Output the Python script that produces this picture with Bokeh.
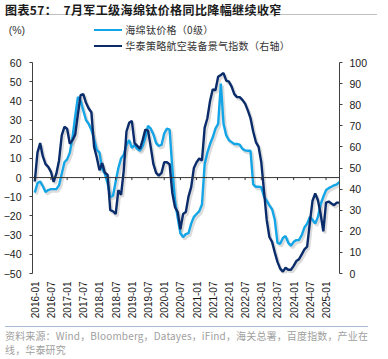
from bokeh.plotting import figure
from bokeh.models import (Range1d, LinearAxis, FixedTicker, Span, ColumnDataSource, Div)
from bokeh.layouts import column
from bokeh.embed import file_html
from bokeh.resources import INLINE

# ---------------- data ----------------
months = [f"{2016 + i // 12}-{i % 12 + 1:02d}" for i in range(114)]  # 2016-01 .. 2025-06

tick_labels = ["2016-01", "2016-07", "2017-01", "2017-07", "2018-01", "2018-07",
               "2019-01", "2019-07", "2020-01", "2020-07", "2021-01", "2021-07",
               "2022-01", "2022-07", "2023-01", "2023-07", "2024-01", "2024-07",
               "2025-01"]

series_names = ["海绵钛价格（0级）", "华泰策略航空装备景气指数（右轴）"]

# 海绵钛价格（0级）同比, %  (left axis)
sponge_ti = [
    -7.8, -3.0, -2.0, -4.5, -7.5, -6.5, -6.0, -6.0, -6.0, -4.0,
    2.0, 8.0, 9.5, 13.0, 21.0, 32.0, 42.0, 40.0, 35.0, 30.0,
    28.0, 25.0, 20.0, 14.5, 13.0, 4.5, 2.0, -3.0, -10.0, -9.5,
    -2.0, 5.0, 10.0, 12.0, 17.0, 19.5, 15.5, 17.0, 15.0, 14.0,
    16.5, 21.0, 27.0, 25.5, 22.5, 18.0, 16.5, 17.0, 23.0, 25.5,
    25.0, 5.0, -12.0, -21.0, -29.0, -31.0, -29.5, -29.0, -24.0, -20.5,
    -19.0, -17.5, -14.0, 7.0, 13.0, 17.5, 21.0, 25.5, 28.0, 49.0,
    28.0, 22.0, 19.5, 18.5, 17.5, 17.5, 17.2, 15.0, 14.2, 14.0,
    14.0, -3.5, -4.8, -4.8, -5.0, -10.0, -12.0, -14.5, -16.5, -22.0,
    -34.0, -34.5, -31.5, -30.5, -34.0, -35.5, -33.5, -32.6, -32.5, -30.0,
    -26.0, -24.0, -20.5, -22.0, -24.0, -20.5, -14.0, -10.0, -6.6, -5.5,
    -4.8, -4.0, -3.5, -2.3,
]

# 华泰策略航空装备景气指数 (right axis)
aero_index = [
    43.6, 57.3, 61.8, 55.5, 51.8, 50.5, 48.2, 43.4, 47.3, 53.6,
    65.5, 69.5, 68.6, 61.5, 63.2, 65.9, 75.5, 84.5, 85.0, 80.9,
    78.2, 76.4, 60.0, 55.0, 48.9, 52.3, 47.7, 46.8, 30.0, 29.5,
    28.2, 39.5, 37.3, 48.9, 67.3, 71.4, 72.3, 61.8, 60.5, 59.1,
    63.2, 68.2, 67.7, 60.0, 51.8, 47.7, 46.4, 47.7, 52.7, 52.7,
    51.8, 38.2, 31.4, 29.1, 20.9, 28.2, 29.1, 36.4, 40.9, 50.0,
    52.7, 54.5, 53.6, 69.1, 73.6, 81.8, 87.3, 86.8, 93.2, 94.1,
    95.0, 91.4, 90.9, 88.6, 85.0, 83.6, 83.6, 82.3, 80.5, 77.3,
    73.6, 67.3, 62.3, 60.0, 52.7, 39.1, 25.5, 17.3, 15.0, 10.0,
    5.5, 2.3, 0.9, 2.7, 1.8, 1.8, 3.6, 5.9, 6.8, 9.1,
    11.4, 12.7, 24.1, 34.5, 37.9, 34.7, 28.2, 20.0, 33.6, 34.1,
    33.2, 32.4, 33.6, 33.6,
]

left_ticks = [-50, -40, -30, -20, -10, 0, 10, 20, 30, 40, 50, 60]
right_ticks = [0, 10, 20, 30, 40, 50, 60, 70, 80, 90, 100]

# ---------------- styling ----------------
LIGHT = "#14a5e6"
DARK = "#0a2c6b"
NUM_FONT = "Liberation Sans"
CJK_FONT = "Noto Sans CJK SC"

src = ColumnDataSource(dict(x=list(range(len(months))), ti=sponge_ti, idx=aero_index))

x0, x1 = -0.84, 113.0
p = figure(width=372, height=266, x_range=Range1d(x0, x1), y_range=Range1d(-50, 60),
           output_backend="svg", toolbar_location=None,
           min_border_left=28, min_border_right=33, min_border_top=7, min_border_bottom=48)
p.extra_y_ranges = {"right": Range1d(0, 100),
                    "sh_l": Range1d(-50 + 1.1, 60 + 1.1),
                    "sh_r": Range1d(0 + 1.0, 100 + 1.0)}
p.extra_x_ranges = {"sh_x": Range1d(x0 - 0.6, x1 - 0.6)}

p.xgrid.visible = False
p.ygrid.visible = False
p.outline_line_color = None
p.background_fill_color = "white"
p.border_fill_alpha = 0

# soft shadows
p.line("x", "ti", source=src, x_range_name="sh_x", y_range_name="sh_l",
       line_color="#9a9a9a", line_alpha=0.35, line_width=3)
p.line("x", "idx", source=src, x_range_name="sh_x", y_range_name="sh_r",
       line_color="#9a9a9a", line_alpha=0.35, line_width=3)

p.line("x", "ti", source=src, line_color=LIGHT, line_width=2.4)
p.line("x", "idx", source=src, y_range_name="right", line_color=DARK, line_width=2.4)

# zero line with small ticks
p.add_layout(Span(location=0, dimension="width", line_color="#333333", line_width=1))
tick_pos = [months.index(t) for t in tick_labels]
p.segment(x0=tick_pos, y0=[0] * len(tick_pos), x1=tick_pos, y1=[-1.3] * len(tick_pos),
          line_color="#333333", line_width=1)

# left axis
ya = p.yaxis[0]
ya.ticker = FixedTicker(ticks=left_ticks)
ya.axis_line_color = "#404040"
ya.major_tick_line_color = "#404040"
ya.major_tick_out = 3
ya.major_tick_in = 0
ya.minor_tick_line_color = None
ya.major_label_standoff = 8
ya.major_label_text_font = NUM_FONT
ya.major_label_text_font_size = "10.5px"
ya.major_label_text_color = "#1a1a1a"

# right axis
ra = LinearAxis(y_range_name="right", ticker=FixedTicker(ticks=right_ticks))
ra.axis_line_color = "#404040"
ra.major_tick_line_color = "#404040"
ra.major_tick_out = 3
ra.major_tick_in = 0
ra.minor_tick_line_color = None
ra.major_label_standoff = 7
ra.major_label_text_font = NUM_FONT
ra.major_label_text_font_size = "10.5px"
ra.major_label_text_color = "#1a1a1a"
p.add_layout(ra, "right")

# bottom axis (labels only)
xa = p.xaxis[0]
xa.ticker = FixedTicker(ticks=tick_pos)
xa.major_label_overrides = {pos: lab for pos, lab in zip(tick_pos, tick_labels)}
xa.major_label_orientation = 3.14159265 / 2
xa.axis_line_color = None
xa.major_tick_line_color = None
xa.minor_tick_line_color = None
xa.major_tick_out = 0
xa.major_label_standoff = 8
xa.major_label_text_font = NUM_FONT
xa.major_label_text_font_size = "10px"
xa.major_label_text_color = "#1a1a1a"

# ---------------- header (title, unit, legend) ----------------
abs_ = "position:absolute;white-space:nowrap;"
header_html = (
    '<div style="position:relative;width:372px;height:45px;overflow:visible;">'
    f'<div style="{abs_}left:0;top:0;width:372px;height:10px;line-height:10px;'
    f'font-family:\'{CJK_FONT}\';font-weight:bold;font-size:12px;color:#1a1a1a;letter-spacing:0.4px;'
    'border-bottom:1px solid #c0c0c0;">图表57：&nbsp;&nbsp;7月军工级海绵钛价格同比降幅继续收窄</div>'
    f'<div style="{abs_}left:3.7px;top:19px;line-height:12px;font-size:10.5px;'
    f'font-family:\'{NUM_FONT}\';color:#333333;">(%)</div>'
    f'<div style="{abs_}left:88.7px;top:23.8px;width:28px;height:2.5px;background:{LIGHT};"></div>'
    f'<div style="{abs_}left:120.3px;top:19px;line-height:12px;font-size:10px;letter-spacing:0.3px;'
    f'font-family:\'{CJK_FONT}\';color:#333333;">{series_names[0]}</div>'
    f'<div style="{abs_}left:88.7px;top:39.8px;width:28px;height:2.5px;background:{DARK};"></div>'
    f'<div style="{abs_}left:120.3px;top:35px;line-height:12px;font-size:10px;letter-spacing:0.3px;'
    f'font-family:\'{CJK_FONT}\';color:#333333;">{series_names[1]}</div>'
    '</div>'
)

header = Div(text=header_html, width=372, height=45)

source = Div(text=(f'<div style="font-family:\'{CJK_FONT}\';font-size:10px;line-height:14px;'
                   'border-top:1px solid #a9bccf;padding-top:2px;color:#a0a0a0;white-space:nowrap;'
                   'letter-spacing:0.15px;">'
                   '资料来源：Wind，Bloomberg，Datayes，iFind，海关总署，百度指数，产业在<br>线，华泰研究</div>'),
             width=372, height=31)

layout = column(header, p, source, spacing=0)

open("out.html", "w").write(file_html(layout, INLINE))
